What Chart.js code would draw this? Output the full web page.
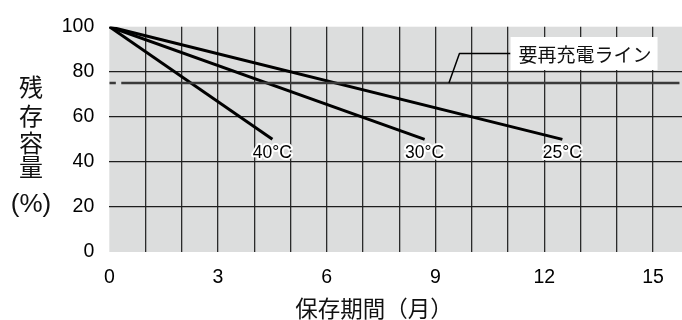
<!DOCTYPE html>
<html><head><meta charset="utf-8">
<script src="https://cdn.jsdelivr.net/npm/chart.js@4"></script>
<style>html,body{margin:0;padding:0;background:#fff}#w{width:682px;height:320px}</style>
</head><body><div id="w"><canvas id="c"></canvas></div>
<script>
// Data
const xTicks = [0, 3, 6, 9, 12, 15];
const yTicks = [0, 20, 40, 60, 80, 100];
const tempLabels = ['25°C', '30°C', '40°C'];
const months25 = [0, 12.5], cap25 = [100, 50];
const months30 = [0, 8.7], cap30 = [100, 50];
const months40 = [0, 4.5], cap40 = [100, 50];
const rechargeX = [0, 0.18, 0.25, 0.33, 15.73];
const rechargeY = [75, 75, null, 75, 75];
const rechargeLabel = '要再充電ライン';
const leaderX = [9.37, 9.66, 11.07];
const leaderY = [75, 88.1, 88.1];
const xTitle = '保存期間（月）';
const yTitleChars = ['残', '存', '容', '量'];
const yUnit = '(%)';

const pts = (xs, ys) => xs.map((x, i) => ({x, y: ys[i]}));
const lineDs = (xs, ys, extra) => Object.assign({data: pts(xs, ys), borderColor: '#000', borderWidth: 3, pointRadius: 0, fill: false, tension: 0, spanGaps: false, borderCapStyle: 'butt'}, extra || {});

const LATIN = '"Liberation Sans", Arial, sans-serif';
const CJK = '"Noto Sans CJK JP", sans-serif';

const deco = {
  id: 'deco',
  beforeDraw(chart) {
    const {ctx, chartArea: a} = chart;
    ctx.save();
    ctx.fillStyle = '#dcdddd';
    ctx.fillRect(a.left, a.top, a.right - a.left, a.bottom - a.top);
    ctx.restore();
  },
  afterDatasetsDraw(chart) {
    const {ctx, scales: {x, y}} = chart;
    ctx.save();
    // temperature labels
    ctx.font = '17.5px ' + LATIN;
    ctx.textAlign = 'center';
    ctx.textBaseline = 'middle';
    const ends = [[months25[1], cap25[1]], [months30[1], cap30[1]], [months40[1], cap40[1]]];
    ends.forEach((e, i) => {
      const px = x.getPixelForValue(e[0]), py = y.getPixelForValue(e[1]) + 14;
      ctx.lineWidth = 4; ctx.strokeStyle = '#fff'; ctx.lineJoin = 'round';
      ctx.strokeText(tempLabels[i], px, py);
      ctx.fillStyle = '#000';
      ctx.fillText(tempLabels[i], px, py);
    });
    // leader line
    ctx.beginPath();
    leaderX.forEach((lx, i) => {
      const px = x.getPixelForValue(lx), py = y.getPixelForValue(leaderY[i]);
      i ? ctx.lineTo(px, py) : ctx.moveTo(px, py);
    });
    ctx.lineWidth = 1.5; ctx.strokeStyle = '#000'; ctx.stroke();
    // label box
    const bx = x.getPixelForValue(leaderX[2]), by = y.getPixelForValue(leaderY[2]);
    ctx.font = '19px ' + CJK;
    const tw = ctx.measureText(rechargeLabel).width;
    ctx.fillStyle = '#fff';
    ctx.fillRect(bx, by - 16.5, tw + 14, 33);
    ctx.fillStyle = '#111';
    ctx.textAlign = 'left';
    ctx.fillText(rechargeLabel, bx + 8, by + 1);
    // axis titles
    ctx.textAlign = 'center';
    ctx.fillStyle = '#111';
    ctx.font = '24px ' + CJK;
    const yc = [86.5, 115.5, 142.5, 166.5];
    yTitleChars.forEach((ch, i) => ctx.fillText(ch, 31, yc[i]));
    ctx.font = '26px ' + LATIN;
    ctx.fillText(yUnit, 31, 205);
    ctx.font = '22.5px ' + CJK;
    ctx.fillText(xTitle, 374, 308);
    ctx.restore();
  }
};

new Chart(document.getElementById('c'), {
  type: 'line',
  data: {
    datasets: [
      lineDs(rechargeX, rechargeY, {borderColor: '#3a3a3a', borderWidth: 2.5}),
      lineDs(months25, cap25),
      lineDs(months30, cap30),
      lineDs(months40, cap40)
    ]
  },
  options: {
    responsive: true, maintainAspectRatio: false, animation: false,
    layout: {padding: {top: 23.5, right: 0, bottom: 0, left: 0}},
    plugins: {legend: {display: false}, tooltip: {enabled: false}},
    scales: {
      x: {
        type: 'linear', min: 0, max: 15.8,
        afterFit(s) { s.height = 68; },
        border: {display: false},
        grid: {drawTicks: false, lineWidth: 1.3,
          color: c => (c.tick && c.tick.value > 0 && c.tick.value <= 15) ? '#2b2b2b' : 'rgba(0,0,0,0)'},
        ticks: {stepSize: 1, includeBounds: false, padding: 14, maxRotation: 0, autoSkip: false,
          color: '#000', font: {size: 19.5, family: LATIN},
          callback: v => xTicks.includes(v) ? String(v) : ''}
      },
      y: {
        type: 'linear', min: 0, max: 100,
        afterFit(s) { s.width = 109.3; },
        border: {display: false},
        grid: {drawTicks: false, lineWidth: 1.3,
          color: c => (c.tick && c.tick.value > 0 && c.tick.value < 100) ? '#1e1e1e' : 'rgba(0,0,0,0)'},
        ticks: {stepSize: 20, padding: 15, color: '#000', font: {size: 19.5, family: LATIN},
          callback: v => yTicks.includes(v) ? String(v) : ''}
      }
    }
  },
  plugins: [deco]
});
</script>
</body></html>
